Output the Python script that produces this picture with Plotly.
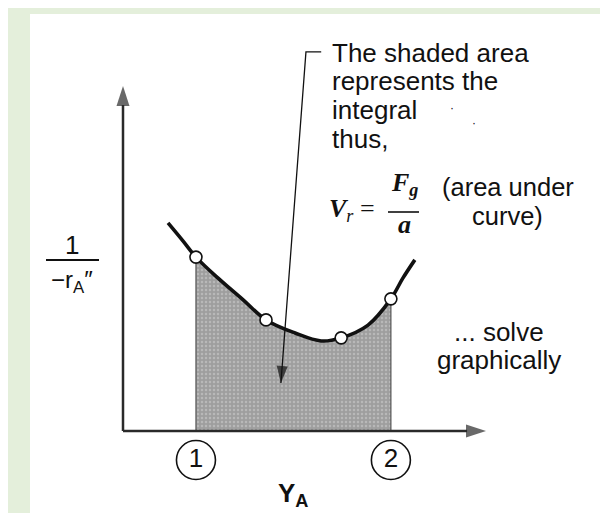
import plotly.graph_objects as go

# ---------------- data (chart units) ----------------
# sampled points of the curve 1/(-rA'') versus YA
CURVE_X = [1.24, 1.65, 2.01, 2.62, 3.31, 3.94, 4.74, 5.46, 6.01, 6.75, 7.38, 7.71, 8.04]
CURVE_Y = [6.03, 5.51, 5.04, 4.43, 3.80, 3.22, 2.84, 2.61, 2.70, 3.07, 3.83, 4.43, 4.96]
# measured points (open circles)
POINT_X = [2.01, 3.94, 6.01, 7.38]
POINT_Y = [5.04, 3.22, 2.70, 3.83]
# integration limit labels
LIMIT_LABELS = ["1", "2"]
# axis extents
AXIS_X_END = 10.0
AXIS_Y_END = 10.0
# leader arrow from the note into the shaded area
LEADER_X = [5.46, 5.04, 4.35]
LEADER_Y = [10.99, 10.99, 1.39]
NOTE_LINES = ["The shaded area", "represents the", "integral", "thus,"]

# ---------------- layout constants ----------------
W, H = 608, 513
OX, OY = 115, 423          # pixel position of the axis origin
SX, SY = 36.3, 34.5        # pixels per chart unit
GREEN = "#e4efdb"
INK = "#111111"
SANS = "Liberation Sans, Arial, sans-serif"
SERIF = "Liberation Serif, Times New Roman, serif"


def P(px, py):
    return px / W, 1 - py / H


fig = go.Figure()

# shaded area between the limits
lo, hi = POINT_X[0], POINT_X[-1]
sx = [x for x in CURVE_X if lo - 1e-9 <= x <= hi + 1e-9]
sy = [y for x, y in zip(CURVE_X, CURVE_Y) if lo - 1e-9 <= x <= hi + 1e-9]
fig.add_trace(go.Scatter(
    x=sx, y=sy, mode="lines", line=dict(width=0, shape="spline"),
    fill="tozeroy", fillcolor="#a2a2a2",
    fillpattern=dict(shape=".", bgcolor="#9e9e9e", fgcolor="#d2d2d2", size=4, solidity=0.3),
    hoverinfo="skip"))
fig.add_trace(go.Scatter(
    x=[lo, lo, None, hi, hi], y=[0, POINT_Y[0], None, 0, POINT_Y[-1]],
    mode="lines", line=dict(color="#555555", width=1.2), hoverinfo="skip"))

# axes with arrow heads
for ax_x, ax_y in (([0, AXIS_X_END], [0, 0]), ([0, 0], [0, AXIS_Y_END])):
    fig.add_trace(go.Scatter(
        x=ax_x, y=ax_y, mode="lines+markers",
        line=dict(color="#2a2a2a", width=2.5),
        marker=dict(symbol="arrow", angleref="previous", size=[0, 21], color="#2a2a2a",
                    line=dict(width=0)),
        hoverinfo="skip"))

# curve
fig.add_trace(go.Scatter(
    x=CURVE_X, y=CURVE_Y, mode="lines",
    line=dict(color=INK, width=3.6, shape="spline"), hoverinfo="skip"))

# measured points
fig.add_trace(go.Scatter(
    x=POINT_X, y=POINT_Y, mode="markers",
    marker=dict(symbol="circle", size=12, color="white", line=dict(color=INK, width=1.6)),
    hoverinfo="skip"))

# limit labels (circled numbers)
LABEL_Y = (OY - 452) / SY
fig.add_trace(go.Scatter(
    x=[lo, hi], y=[LABEL_Y, LABEL_Y], mode="markers+text", text=LIMIT_LABELS,
    textposition="middle center", textfont=dict(family=SANS, size=26, color=INK),
    marker=dict(symbol="circle-open", size=39, color=INK, line=dict(width=1.6)),
    hoverinfo="skip"))

# leader arrow
fig.add_trace(go.Scatter(
    x=LEADER_X, y=LEADER_Y, mode="lines+markers",
    line=dict(color=INK, width=1.3),
    marker=dict(symbol="arrow", angleref="previous", size=[0, 0, 18], color=INK,
                line=dict(width=0)),
    hoverinfo="skip"))

annotations = []


def txt(text, px, py, size=26, family=SANS, xanchor="left", **kw):
    x, y = P(px, py)
    font = dict(family=family, size=size, color=INK)
    font.update(kw)
    annotations.append(dict(text=text, x=x, y=y, xref="paper", yref="paper",
                            xanchor=xanchor, yanchor="middle", showarrow=False,
                            font=font))


for i, line in enumerate(NOTE_LINES):
    txt(line, 322, 45 + i * 28.5)
txt("·", 440, 100, size=12)
txt("·", 462, 115, size=12)

# equation  Vr = Fg / a
txt("<b><i>V</i></b><sub><i>r</i></sub> =", 319, 202, family=SERIF, size=26)
txt("<b><i>F</i></b><sub><b><i>g</i></b></sub>", 396, 176, family=SERIF, size=26, xanchor="center")
txt("<b><i>a</i></b>", 396, 216, family=SERIF, size=26, xanchor="center")
txt("(area under", 500, 179, size=25.5, xanchor="center")
txt("curve)", 500, 208, size=25.5, xanchor="center")

txt("... solve", 491, 324, xanchor="center")
txt("graphically", 491, 352, xanchor="center")

# y label 1 / (-rA'')
txt("1", 64, 237, xanchor="center")
txt("\u2212r<sub>A</sub>\u2033", 64, 273, size=24, xanchor="center")

# x label
txt("<b>Y<sub>A</sub></b>", 285, 486, size=26, xanchor="center")

shapes = [
    dict(type="rect", xref="paper", yref="paper", x0=22 / W, x1=597 / W,
         y0=1 - 510 / H, y1=1 - 6 / H, fillcolor="white", line=dict(width=0), layer="below"),
]
x0, y0 = P(380, 204)
x1, _ = P(411, 204)
shapes.append(dict(type="line", xref="paper", yref="paper", x0=x0, x1=x1, y0=y0, y1=y0,
                   line=dict(color=INK, width=1.6)))
x0, y0 = P(38, 252)
x1, _ = P(91, 252)
shapes.append(dict(type="line", xref="paper", yref="paper", x0=x0, x1=x1, y0=y0, y1=y0,
                   line=dict(color=INK, width=2)))

fig.update_layout(
    width=W, height=H, margin=dict(l=0, r=0, t=0, b=0),
    paper_bgcolor=GREEN, plot_bgcolor=GREEN, showlegend=False,
    xaxis=dict(range=[-OX / SX, (W - OX) / SX], visible=False, fixedrange=True),
    yaxis=dict(range=[-(H - OY) / SY, OY / SY], visible=False, fixedrange=True),
    shapes=shapes, annotations=annotations,
)

fig.write_html("out.html")
